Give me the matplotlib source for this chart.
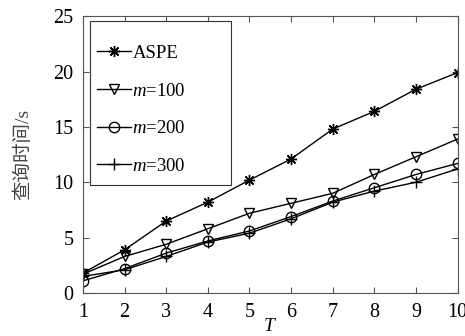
import numpy as np
import matplotlib.pyplot as plt
from matplotlib.patches import Rectangle

plt.rcParams['font.family'] = ['Liberation Serif', 'Noto Sans CJK SC']
plt.rcParams['mathtext.fontset'] = 'custom'
plt.rcParams['mathtext.rm'] = 'Liberation Serif'
plt.rcParams['mathtext.it'] = 'Liberation Serif:italic'

# data
T = [1, 2, 3, 4, 5, 6, 7, 8, 9, 10]
aspe = [1.8, 3.9, 6.5, 8.2, 10.2, 12.1, 14.8, 16.4, 18.4, 19.9]
m100 = [1.7, 3.3, 4.4, 5.8, 7.2, 8.1, 9.0, 10.7, 12.3, 13.9]
m200 = [1.1, 2.2, 3.6, 4.7, 5.6, 6.9, 8.3, 9.5, 10.7, 11.7]
m300 = [1.5, 2.1, 3.3, 4.6, 5.4, 6.7, 8.2, 9.2, 10.0, 11.2]

fig = plt.figure(figsize=(4.65, 3.36), dpi=100)
ax = fig.add_axes([0.1785, 0.128, 0.8055, 0.824])

ax.plot(T, aspe, 'k-', marker=(8, 2, 0), lw=1, ms=8, mew=1, label='ASPE')
ax.plot(T, m100, 'k-v', lw=1, ms=7.5, mfc='none', mew=1, label='$m$=100')
ax.plot(T, m200, 'k-o', lw=1, ms=7.5, mfc='none', mew=1, label='$m$=200')
ax.plot(T, m300, 'k-+', lw=1, ms=9, mew=1, label='$m$=300')

ax.set_xlim(1, 10)
ax.set_ylim(0, 25)
ax.set_xticks(T)
ax.set_yticks([0, 5, 10, 15, 20, 25])
ax.tick_params(direction='in', top=True, right=True, labelsize=14.5,
               color='#555555', length=4, pad=7)
for s in ax.spines.values():
    s.set_color('#555555')
    s.set_linewidth(0.8)

ax.set_xlabel('$T$', fontsize=14, labelpad=-3)
ax.set_ylabel('查询时间/s', fontsize=14, color='#444444', labelpad=15)

# legend box drawn separately (MATLAB style padding)
box = Rectangle((0.019, 0.391), 0.376, 0.591, transform=ax.transAxes,
                facecolor='white', edgecolor='#333333', lw=0.8, zorder=4)
ax.add_patch(box)
leg = ax.legend(loc='upper left', bbox_to_anchor=(0.037, 0.897),
                fontsize=13.5, handlelength=1.8, frameon=False,
                labelspacing=1.1, handletextpad=0.1, borderpad=0,
                borderaxespad=0)
leg.set_zorder(5)

fig.savefig('out.png', dpi=100)
